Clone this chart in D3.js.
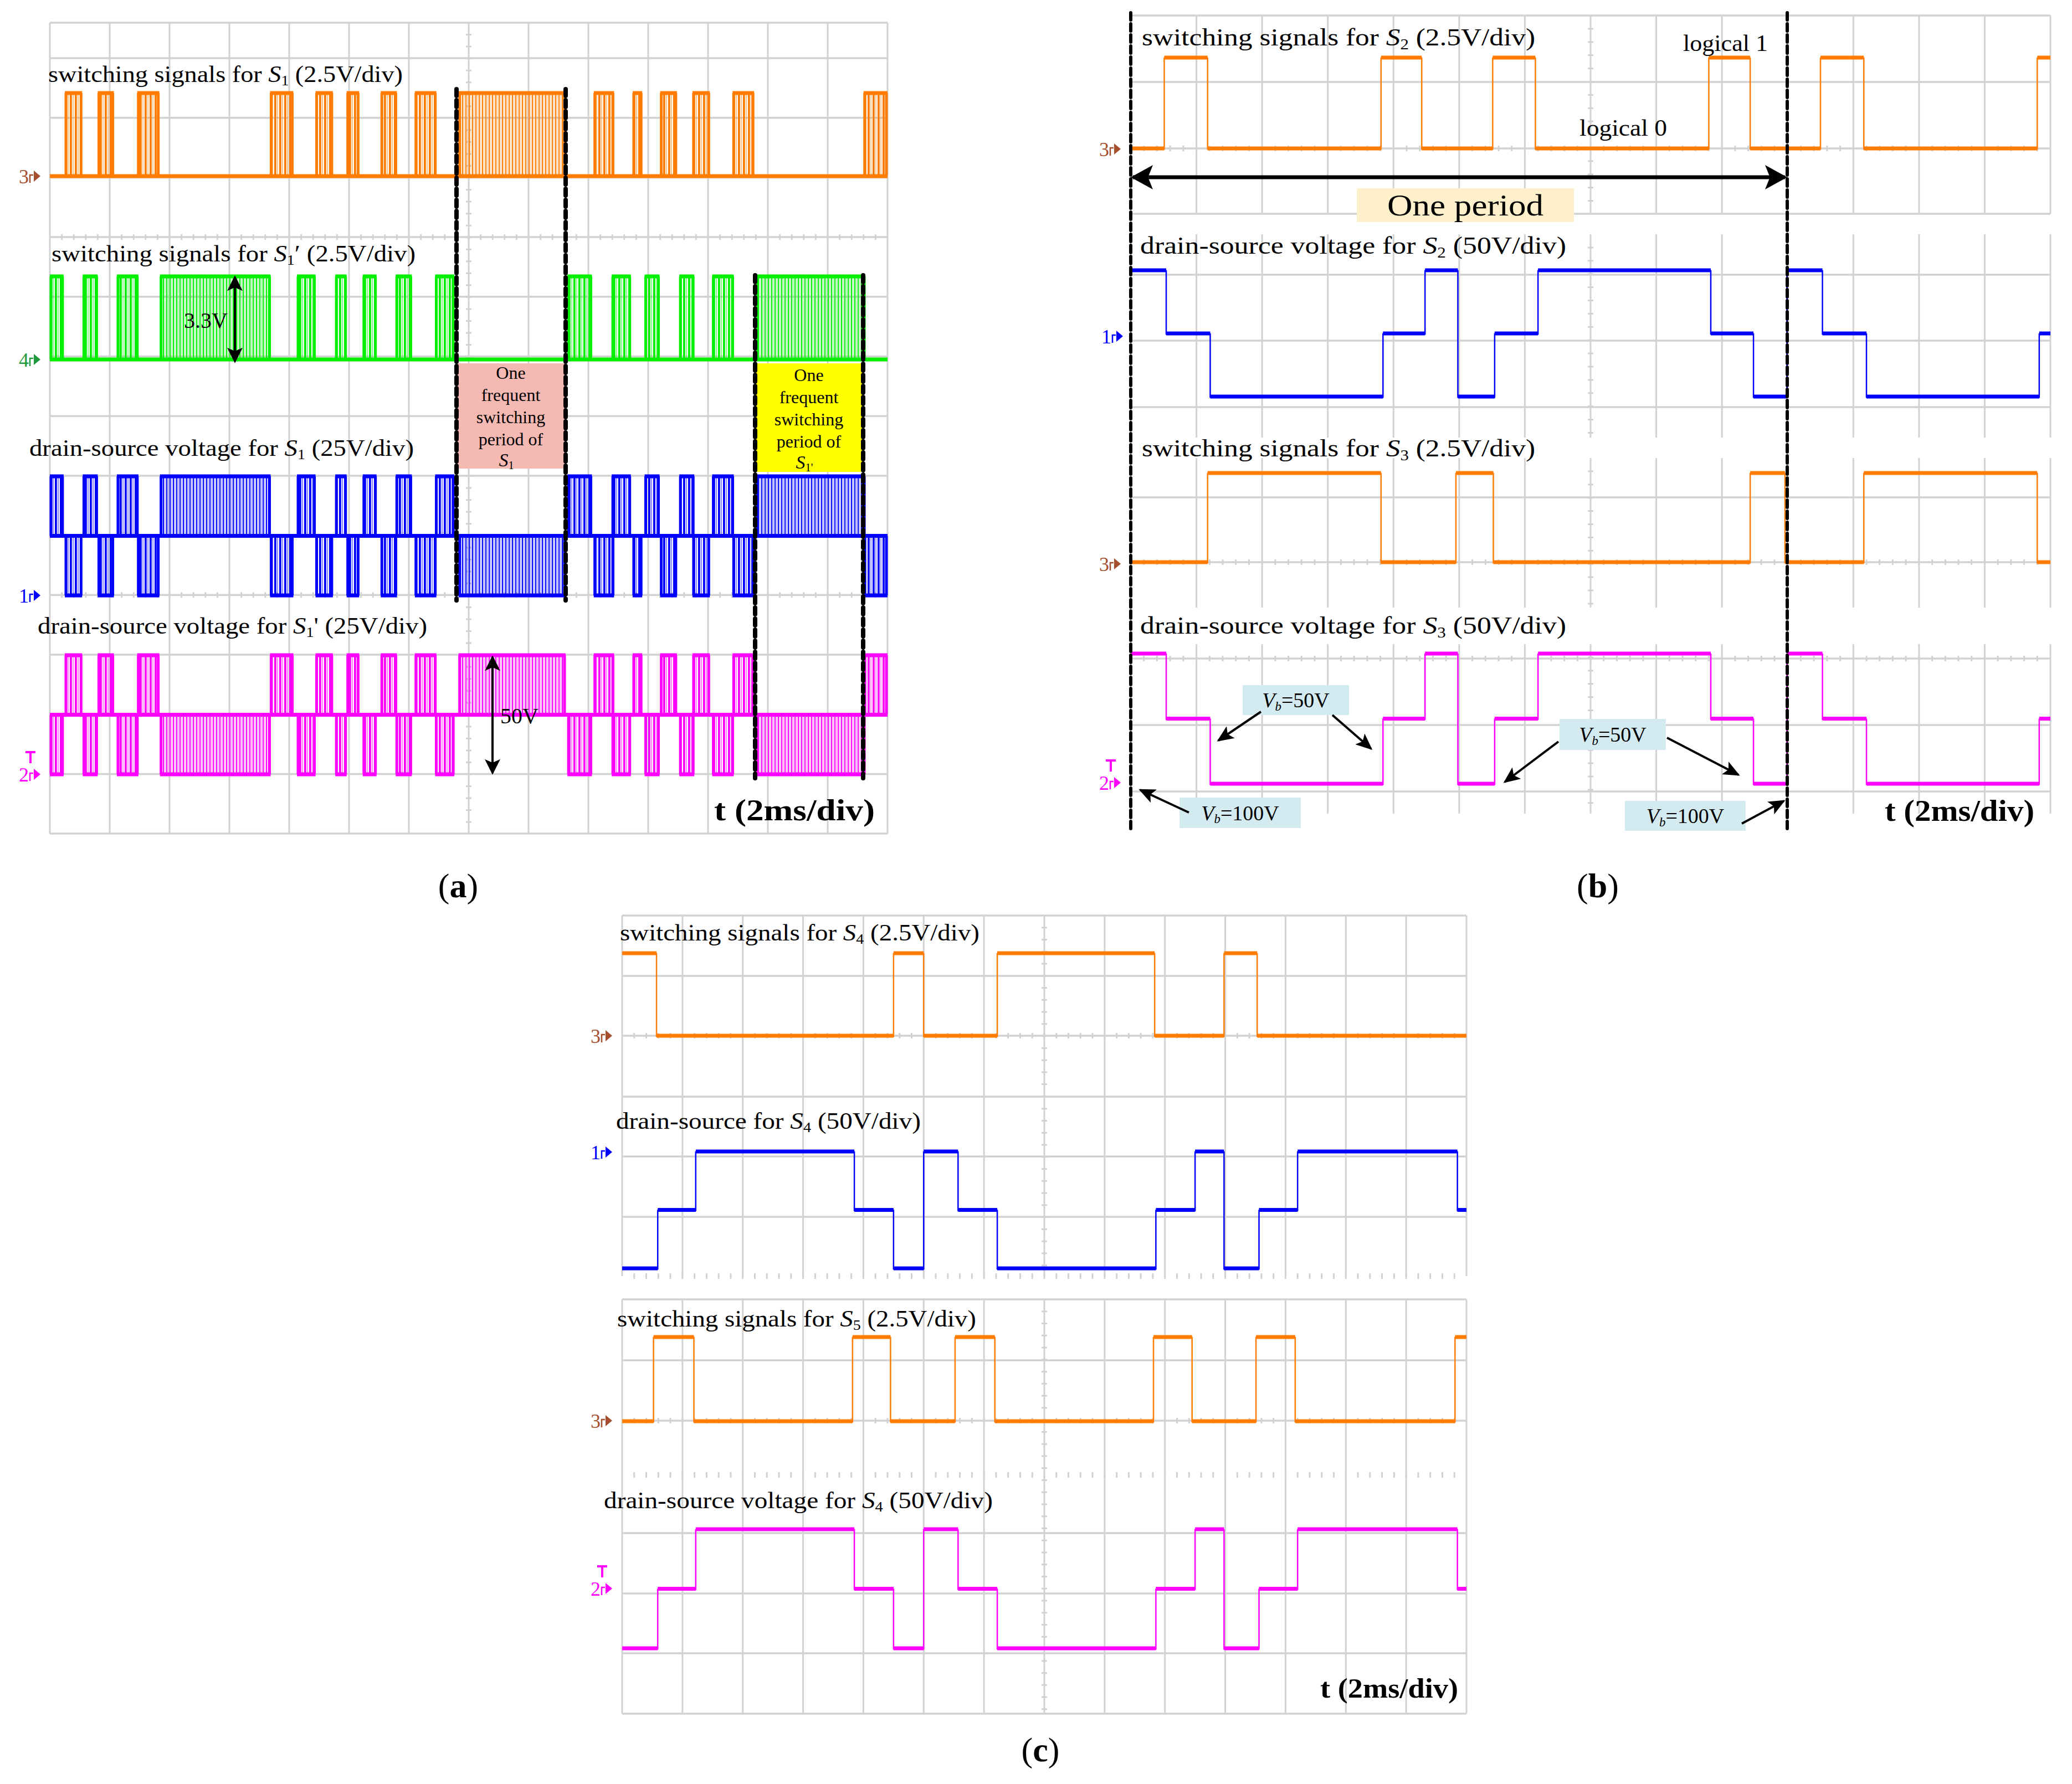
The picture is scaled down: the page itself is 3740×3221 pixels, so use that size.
<!DOCTYPE html>
<html>
<head>
<meta charset="utf-8">
<script src="https://cdn.jsdelivr.net/npm/d3@7"></script>
<style>
  body { margin: 0; background: #fff; }
  text { font-family: "Liberation Serif", "DejaVu Serif", serif; fill: #000; }
</style>
</head>
<body>
<div id="chart"></div>
<script>
var svgWidth = 3740;
var svgHeight = 3221;

// ---------------- data (time in divisions, 2 ms/div) ----------------
var divisions = d3.range(0, 15);

// (a) windows where the gate of S1 / S1' is switching
var s1Bursts = [[0.25, 0.54], [0.80, 1.07], [1.46, 1.83], [3.68, 4.07], [4.44, 4.73], [4.96, 5.17],
  [5.53, 5.80], [6.10, 6.46], [9.09, 9.43], [9.74, 9.90], [10.20, 10.48], [10.74, 11.03],
  [11.41, 11.77], [13.60, 14.0]];
var s1Dense = [[6.83, 8.62]];
var s1pBursts = [[0.0, 0.23], [0.55, 0.80], [1.12, 1.48], [4.13, 4.44], [4.77, 4.96], [5.23, 5.46],
  [5.78, 6.05], [6.44, 6.76], [8.65, 9.06], [9.39, 9.71], [9.94, 10.19], [10.52, 10.77], [11.07, 11.43]];
var s1pDense = [[1.84, 3.69], [11.81, 13.63]];

// (a) drain-source voltages: upper step (25..50V) / lower step (0..25V) windows
var vdsS1Up = [[0.0, 0.23], [0.55, 0.80], [1.12, 1.48], [4.13, 4.44], [4.77, 4.96], [5.23, 5.46],
  [5.78, 6.05], [6.44, 6.76], [8.65, 9.06], [9.39, 9.71], [9.94, 10.19], [10.52, 10.77], [11.07, 11.43]];
var vdsS1UpDense = [[1.84, 3.69], [11.81, 13.63]];
var vdsS1Down = [[0.25, 0.54], [0.80, 1.07], [1.46, 1.83], [3.68, 4.07], [4.44, 4.73], [4.96, 5.17],
  [5.53, 5.80], [6.10, 6.46], [9.09, 9.43], [9.74, 9.90], [10.20, 10.48], [10.74, 11.03],
  [11.41, 11.77], [13.60, 14.0]];
var vdsS1DownDense = [[6.83, 8.62]];
var vdsS1pUp = [[0.25, 0.54], [0.80, 1.07], [1.46, 1.83], [3.68, 4.07], [4.44, 4.73], [4.96, 5.17],
  [5.53, 5.80], [6.10, 6.46], [9.09, 9.43], [9.74, 9.90], [10.20, 10.48], [10.74, 11.03],
  [11.41, 11.77], [13.60, 14.0]];
var vdsS1pUpDense = [[6.83, 8.62]];
var vdsS1pDown = [[0.0, 0.23], [0.55, 0.80], [1.12, 1.48], [4.13, 4.44], [4.77, 4.96], [5.23, 5.46],
  [5.78, 6.05], [6.44, 6.76], [8.65, 9.06], [9.39, 9.71], [9.94, 10.19], [10.52, 10.77], [11.07, 11.43]];
var vdsS1pDownDense = [[1.84, 3.69], [11.81, 13.63]];

// (b) step traces: edge times and the level held after each edge
var s2Times = [0, 0.51, 1.17, 3.81, 4.43, 5.51, 6.16, 8.80, 9.43, 10.50, 11.16, 13.80];
var s2Logic = [0, 1, 0, 1, 0, 1, 0, 1, 0, 1, 0, 1];
var vdsS2Times = [0, 0.54, 1.21, 3.84, 4.48, 4.98, 5.54, 6.20, 8.83, 9.48, 9.99, 10.53, 11.20, 13.83];
var vdsS2Volts = [100, 50, 0, 50, 100, 0, 50, 100, 50, 0, 100, 50, 0, 50];
var s3Times = [0, 1.17, 3.81, 4.95, 5.52, 9.43, 9.96, 11.16, 13.80];
var s3Logic = [0, 1, 0, 1, 0, 1, 0, 1, 0];
var vdsS3Times = [0, 0.54, 1.21, 3.84, 4.48, 4.98, 5.54, 6.20, 8.83, 9.48, 9.99, 10.53, 11.20, 13.83];
var vdsS3Volts = [100, 50, 0, 50, 100, 0, 50, 100, 50, 0, 100, 50, 0, 50];

// (c)
var s4Times = [0, 0.57, 4.50, 5.00, 6.22, 8.83, 9.98, 10.53];
var s4Logic = [1, 0, 1, 0, 1, 0, 1, 0];
var vdsS4Times = [0, 0.59, 1.22, 3.85, 4.50, 5.00, 5.57, 6.22, 8.85, 9.50, 9.98, 10.56, 11.20, 13.85];
var vdsS4Volts = [0, 50, 100, 50, 0, 100, 50, 0, 50, 100, 0, 50, 100, 50];
var s5Times = [0, 0.52, 1.19, 3.82, 4.45, 5.52, 6.18, 8.81, 9.45, 10.51, 11.16, 13.81];
var s5Logic = [0, 1, 0, 1, 0, 1, 0, 1, 0, 1, 0, 1];
var vdsS4bTimes = [0, 0.59, 1.22, 3.85, 4.50, 5.00, 5.57, 6.22, 8.85, 9.50, 9.98, 10.56, 11.20, 13.85];
var vdsS4bVolts = [0, 50, 100, 50, 0, 100, 50, 0, 50, 100, 0, 50, 100, 50];

// ---------------- styles ----------------
var gridColor = "#d2d2d2";
var orange = "#ff7c00";
var green = "#00f000";
var blue = "#0000ff";
var magenta = "#ff00ff";

var svg = d3.select("#chart")
  .append("svg")
  .attr("width", svgWidth)
  .attr("height", svgHeight)
  .style("display", "block");

svg.append("rect").attr("width", svgWidth).attr("height", svgHeight).attr("fill", "#fff");

var defs = svg.append("defs");

function addArrow(id, len, half) {
  defs.append("marker")
    .attr("id", id)
    .attr("viewBox", `0 ${-half} ${len} ${2 * half}`)
    .attr("refX", len * 0.9)
    .attr("refY", 0)
    .attr("markerUnits", "userSpaceOnUse")
    .attr("markerWidth", len)
    .attr("markerHeight", 2 * half)
    .attr("orient", "auto-start-reverse")
    .append("path")
    .attr("d", `M0,${-half}L${len},0L0,${half}L${len * 0.22},0Z`)
    .attr("fill", "#000");
}
addArrow("arrowBig", 40, 22);
addArrow("arrowMid", 28, 14);
addArrow("arrowSmall", 30, 13);

function addStripes(id, color, w, solid) {
  var p = defs.append("pattern")
    .attr("id", id)
    .attr("patternUnits", "userSpaceOnUse")
    .attr("width", w)
    .attr("height", 10);
  p.append("rect").attr("x", 0).attr("width", w * solid).attr("height", 10).attr("fill", color);
  p.append("rect").attr("x", w * 0.58).attr("width", w * 0.2).attr("height", 10)
    .attr("fill", color).attr("opacity", 0.5);
}
[["o", orange], ["g", green], ["b", blue], ["m", magenta]].forEach(function(c) {
  addStripes("stripe-" + c[0], c[1], 9, 0.42);
  addStripes("dense-" + c[0], c[1], 6, 0.36);
});

// ---------------- helpers ----------------
function drawScreen(g, x, s) {
  var step = s.step;
  g.selectAll(null)
    .data(divisions)
    .enter()
    .append("line")
    .attr("x1", d => x(d)).attr("x2", d => x(d))
    .attr("y1", s.top).attr("y2", s.bottom)
    .attr("stroke", gridColor)
    .attr("stroke-width", 3);

  g.selectAll(null)
    .data(s.rows)
    .enter()
    .append("line")
    .attr("x1", x(0)).attr("x2", x(14))
    .attr("y1", d => d).attr("y2", d => d)
    .attr("stroke", gridColor)
    .attr("stroke-width", 3.5);

  // minor ticks on the centre column
  var cx = x(7);
  g.selectAll(null)
    .data(d3.range(s.top + step / 5, s.bottom, step / 5))
    .enter()
    .append("line")
    .attr("x1", cx - 5).attr("x2", cx + 5)
    .attr("y1", d => d).attr("y2", d => d)
    .attr("stroke", gridColor)
    .attr("stroke-width", 3);

  // minor ticks on the tick rows
  (s.tickRows || []).forEach(function(ry) {
    g.selectAll(null)
      .data(d3.range(0.2, 14, 0.2))
      .enter()
      .append("line")
      .attr("x1", d => x(d)).attr("x2", d => x(d))
      .attr("y1", ry - 5).attr("y2", ry + 5)
      .attr("stroke", gridColor)
      .attr("stroke-width", 3);
  });
}

// a trace that sits on one level and chops to other levels inside windows
function drawBurstTrace(g, x, baseY, cfg) {
  g.append("line")
    .attr("x1", x(0)).attr("x2", x(14))
    .attr("y1", baseY).attr("y2", baseY)
    .attr("stroke", cfg.color)
    .attr("stroke-width", 7);

  function windows(list, otherY, pat) {
    list.forEach(function(w) {
      var x0 = x(w[0]), x1 = x(w[1]);
      g.append("rect")
        .attr("x", x0).attr("width", x1 - x0)
        .attr("y", Math.min(baseY, otherY)).attr("height", Math.abs(otherY - baseY))
        .attr("fill", `url(#${pat})`);
      g.append("line")
        .attr("x1", x0).attr("x2", x1).attr("y1", otherY).attr("y2", otherY)
        .attr("stroke", cfg.color).attr("stroke-width", 7);
      [x0 + 2, x1 - 2].forEach(function(ex) {
        g.append("line")
          .attr("x1", ex).attr("x2", ex).attr("y1", baseY).attr("y2", otherY)
          .attr("stroke", cfg.color).attr("stroke-width", 5);
      });
    });
  }
  if (cfg.up) windows(cfg.up, cfg.upY, "stripe-" + cfg.key);
  if (cfg.upDense) windows(cfg.upDense, cfg.upY, "dense-" + cfg.key);
  if (cfg.down) windows(cfg.down, cfg.downY, "stripe-" + cfg.key);
  if (cfg.downDense) windows(cfg.downDense, cfg.downY, "dense-" + cfg.key);
}

// clean step trace (panels b and c)
function drawStep(g, x, y, times, levels, color) {
  var pts = times.map((t, i) => [t, levels[i]]);
  pts.push([14, levels[levels.length - 1]]);
  var line = d3.line()
    .x(d => x(d[0]))
    .y(d => y(d[1]))
    .curve(d3.curveStepAfter);
  g.append("path")
    .attr("d", line(pts))
    .attr("fill", "none")
    .attr("stroke", color)
    .attr("stroke-width", 2.5);
  // the flat parts are thickened by noise on the scope
  g.selectAll(null)
    .data(pts.slice(0, -1))
    .enter()
    .append("line")
    .attr("x1", d => x(d[0]))
    .attr("x2", (d, i) => x(pts[i + 1][0]))
    .attr("y1", d => y(d[1]) - 1).attr("y2", d => y(d[1]) - 1)
    .attr("stroke", color)
    .attr("stroke-width", 7);
}

function richText(g, x, y, parts, size, opts) {
  opts = opts || {};
  var t = g.append("text").attr("x", x).attr("y", y).attr("font-size", size);
  var shift = 0;
  parts.forEach(function(p) {
    var st = p[1] || "";
    var s = t.append("tspan").text(p[0]);
    var want = 0;
    if (st.indexOf("sub") >= 0) { s.attr("font-size", size * 0.6); want = size * 0.15; }
    if (st.indexOf("i") === 0) s.attr("font-style", "italic");
    if (st.indexOf("b") === 0) s.attr("font-weight", "bold");
    if (want !== shift) { s.attr("dy", want - shift); shift = want; }
  });
  if (opts.len) t.attr("textLength", opts.len).attr("lengthAdjust", "spacingAndGlyphs");
  if (opts.anchor) t.attr("text-anchor", opts.anchor);
  if (opts.weight) t.attr("font-weight", opts.weight);
  return t;
}

function chanMark(g, x, y, label, color, trig) {
  g.append("text")
    .attr("x", x).attr("y", y + 13)
    .attr("font-size", 36)
    .style("fill", color)
    .text(label);
  g.append("path")
    .attr("d", `M${x + 20},${y + 12}v-14h6`)
    .attr("fill", "none").attr("stroke", color).attr("stroke-width", 2.5);
  g.append("path")
    .attr("d", `M${x + 27},${y - 10}l12,10l-12,10z`)
    .attr("fill", color);
  if (trig) {
    g.append("path")
      .attr("d", `M${x + 12},${y - 40}h18M${x + 21},${y - 40}v20`)
      .attr("stroke", color).attr("stroke-width", 4).attr("fill", "none");
  }
}

function dashedV(g, x, y0, y1, w, dash) {
  g.append("line")
    .attr("x1", x).attr("x2", x).attr("y1", y0).attr("y2", y1)
    .attr("stroke", "#000")
    .attr("stroke-width", w)
    .attr("stroke-dasharray", dash)
    .attr("stroke-linecap", "round");
}

function subLabel(pre, sub, post) {
  return [[pre, ""], ["S", "i"], [sub, "sub"], [post, ""]];
}

// ======================= panel (a) =======================
var gA = svg.append("g");
var xA = d3.scaleLinear().domain([0, 14]).range([90, 1602]);
var rowA = 107.7;
drawScreen(gA, xA, {
  top: 41, bottom: 1505, step: rowA,
  rows: [41].concat(d3.range(14).map(k => 105 + k * rowA)),
  tickRows: [105 + 3 * rowA, 105 + 9 * rowA]
});

// annotation boxes behind the traces
gA.append("rect").attr("x", 824).attr("y", 656).attr("width", 197).attr("height", 190).attr("fill", "#f4b9b3");
gA.append("rect").attr("x", 1363).attr("y", 656).attr("width", 195).attr("height", 196).attr("fill", "#ffff00");

var yS1 = d3.scaleLinear().domain([0, 1]).range([318, 168]);
var yS1p = d3.scaleLinear().domain([0, 1]).range([649, 499]);
var yV1 = d3.scaleLinear().domain([0, 50]).range([1075, 860]);
var yV1p = d3.scaleLinear().domain([0, 50]).range([1398, 1183]);

drawBurstTrace(gA, xA, yS1(0), { color: orange, key: "o", up: s1Bursts, upDense: s1Dense, upY: yS1(1) });
drawBurstTrace(gA, xA, yS1p(0), { color: green, key: "g", up: s1pBursts, upDense: s1pDense, upY: yS1p(1) });
drawBurstTrace(gA, xA, yV1(25), {
  color: blue, key: "b",
  up: vdsS1Up, upDense: vdsS1UpDense, upY: yV1(50),
  down: vdsS1Down, downDense: vdsS1DownDense, downY: yV1(0)
});
drawBurstTrace(gA, xA, yV1p(25), {
  color: magenta, key: "m",
  up: vdsS1pUp, upDense: vdsS1pUpDense, upY: yV1p(50),
  down: vdsS1pDown, downDense: vdsS1pDownDense, downY: yV1p(0)
});

chanMark(gA, 34, yS1(0), "3", "#a4502e");
chanMark(gA, 34, yS1p(0), "4", "#1f9a3c");
chanMark(gA, 34, yV1(0), "1", blue);
chanMark(gA, 34, yV1p(0), "2", magenta, true);

dashedV(gA, 824, 161, 1084, 8, "12,8");
dashedV(gA, 1021, 161, 1084, 8, "12,8");
dashedV(gA, 1363, 497, 1405, 8, "12,8");
dashedV(gA, 1558, 497, 1405, 8, "12,8");

richText(gA, 87, 148, subLabel("switching signals for ", "1", " (2.5V/div)"), 42, { len: 640 });
richText(gA, 93, 472, subLabel("switching signals for ", "1", "\u2032 (2.5V/div)"), 42, { len: 657 });
richText(gA, 53, 823, subLabel("drain-source voltage for ", "1", " (25V/div)"), 42, { len: 694 });
richText(gA, 68, 1144, subLabel("drain-source voltage for ", "1", "' (25V/div)"), 42, { len: 703 });

var boxLines = ["One", "frequent", "switching", "period of"];
boxLines.forEach(function(s, i) {
  richText(gA, 922, 684 + i * 40, [[s, ""]], 32, { anchor: "middle" });
  richText(gA, 1460, 688 + i * 40, [[s, ""]], 32, { anchor: "middle" });
});
richText(gA, 914, 842, [["S", "i"], ["1", "sub"]], 34, { anchor: "middle" });
richText(gA, 1452, 846, [["S", "i"], ["1'", "sub"]], 34, { anchor: "middle" });

// 3.3 V and 50 V spans
gA.append("line").attr("x1", 424).attr("x2", 424).attr("y1", 500).attr("y2", 653)
  .attr("stroke", "#000").attr("stroke-width", 4)
  .attr("marker-start", "url(#arrowMid)").attr("marker-end", "url(#arrowMid)");
richText(gA, 332, 592, [["3.3V", ""]], 40);
gA.append("line").attr("x1", 889).attr("x2", 889).attr("y1", 1186).attr("y2", 1396)
  .attr("stroke", "#000").attr("stroke-width", 4)
  .attr("marker-start", "url(#arrowMid)").attr("marker-end", "url(#arrowMid)");
richText(gA, 903, 1306, [["50V", ""]], 40);

richText(gA, 1289, 1481, [["t (2ms/div)", ""]], 54, { len: 290, weight: "bold" });
richText(gA, 827, 1620, [["(", ""], ["a", "b"], [")", ""]], 62, { anchor: "middle" });

// ======================= panel (b) =======================
var gB = svg.append("g");
var xB = d3.scaleLinear().domain([0, 14]).range([2041, 3701]);
var rowB = 119.5;
drawScreen(gB, xB, { top: 28, bottom: 386, step: rowB, rows: [28, 148, 268, 386], tickRows: [268] });
drawScreen(gB, xB, { top: 423, bottom: 790, step: rowB, rows: [496, 615, 735] });
drawScreen(gB, xB, { top: 827, bottom: 1097, step: rowB, rows: [898, 1015], tickRows: [1015] });
drawScreen(gB, xB, { top: 1163, bottom: 1469, step: rowB, rows: [1189, 1309, 1429], tickRows: [1189] });

var yS2 = d3.scaleLinear().domain([0, 1]).range([269, 105]);
var yV2 = d3.scaleLinear().domain([0, 100]).range([717, 489]);
var yS3 = d3.scaleLinear().domain([0, 1]).range([1016, 855]);
var yV3 = d3.scaleLinear().domain([0, 100]).range([1416, 1181]);

drawStep(gB, xB, yS2, s2Times, s2Logic, orange);
drawStep(gB, xB, yV2, vdsS2Times, vdsS2Volts, blue);
drawStep(gB, xB, yS3, s3Times, s3Logic, orange);
drawStep(gB, xB, yV3, vdsS3Times, vdsS3Volts, magenta);

chanMark(gB, 1984, 269, "3", "#a4502e");
chanMark(gB, 1988, 607, "1", blue);
chanMark(gB, 1984, 1018, "3", "#a4502e");
chanMark(gB, 1984, 1413, "2", magenta, true);

dashedV(gB, 2041, 23, 1497, 6, "13,7");
dashedV(gB, 3226, 23, 1497, 6, "13,7");

richText(gB, 2061, 82, subLabel("switching signals for ", "2", " (2.5V/div)"), 44, { len: 710 });
richText(gB, 2058, 458, subLabel("drain-source voltage for ", "2", " (50V/div)"), 44, { len: 769 });
richText(gB, 2061, 824, subLabel("switching signals for ", "3", " (2.5V/div)"), 44, { len: 710 });
richText(gB, 2058, 1144, subLabel("drain-source voltage for ", "3", " (50V/div)"), 44, { len: 769 });
richText(gB, 3038, 92, [["logical 1", ""]], 42, { len: 153 });
richText(gB, 2851, 245, [["logical 0", ""]], 42, { len: 158 });

// one period span
gB.append("line").attr("x1", 2045).attr("x2", 3222).attr("y1", 320).attr("y2", 320)
  .attr("stroke", "#000").attr("stroke-width", 7)
  .attr("marker-start", "url(#arrowBig)").attr("marker-end", "url(#arrowBig)");
gB.append("rect").attr("x", 2449).attr("y", 340).attr("width", 392).attr("height", 61).attr("fill", "#fdf0cb");
richText(gB, 2645, 389, [["One period", ""]], 54, { anchor: "middle", len: 282 });

// battery voltage call-outs
var vbBoxes = [
  { x: 2243, y: 1237, w: 192, h: 54, txt: "=50V" },
  { x: 2815, y: 1298, w: 192, h: 56, txt: "=50V" },
  { x: 2129, y: 1440, w: 219, h: 55, txt: "=100V" },
  { x: 2933, y: 1446, w: 218, h: 54, txt: "=100V" }
];
vbBoxes.forEach(function(b) {
  gB.append("rect").attr("x", b.x).attr("y", b.y).attr("width", b.w).attr("height", b.h).attr("fill", "#d3ebf0");
  richText(gB, b.x + b.w / 2, b.y + b.h / 2 + 13, [["V", "i"], ["b", "isub"], [b.txt, ""]], 38, { anchor: "middle" });
});
var vbArrows = [
  [2276, 1285, 2199, 1337], [2405, 1291, 2475, 1352],
  [2813, 1339, 2716, 1412], [3009, 1332, 3138, 1399],
  [2146, 1467, 2058, 1426], [3144, 1487, 3220, 1446]
];
vbArrows.forEach(function(a) {
  gB.append("line").attr("x1", a[0]).attr("y1", a[1]).attr("x2", a[2]).attr("y2", a[3])
    .attr("stroke", "#000").attr("stroke-width", 4)
    .attr("marker-end", "url(#arrowSmall)");
});

richText(gB, 3402, 1482, [["t (2ms/div)", ""]], 54, { len: 270, weight: "bold" });
richText(gB, 2884, 1620, [["(", ""], ["b", "b"], [")", ""]], 62, { anchor: "middle" });

// ======================= panel (c) =======================
var gC = svg.append("g");
var xC = d3.scaleLinear().domain([0, 14]).range([1123, 2647]);
var rowC = 108.8;
drawScreen(gC, xC, { top: 1653, bottom: 1980, step: rowC, rows: [1653, 1762, 1870, 1980], tickRows: [1870] });
drawScreen(gC, xC, { top: 1980, bottom: 2304, step: rowC, rows: [2088, 2197], tickRows: [2304] });
drawScreen(gC, xC, { top: 2346, bottom: 3094, step: rowC,
  rows: [2346, 2456, 2565, 2768, 2877, 2985, 3094], tickRows: [2565, 2663] });

var yS4 = d3.scaleLinear().domain([0, 1]).range([1871, 1722]);
var yV4 = d3.scaleLinear().domain([0, 100]).range([2291, 2080]);
var yS5 = d3.scaleLinear().domain([0, 1]).range([2567, 2415]);
var yV4b = d3.scaleLinear().domain([0, 100]).range([2977, 2762]);

drawStep(gC, xC, yS4, s4Times, s4Logic, orange);
drawStep(gC, xC, yV4, vdsS4Times, vdsS4Volts, blue);
drawStep(gC, xC, yS5, s5Times, s5Logic, orange);
drawStep(gC, xC, yV4b, vdsS4bTimes, vdsS4bVolts, magenta);

chanMark(gC, 1066, 1870, "3", "#a4502e");
chanMark(gC, 1066, 2080, "1", blue);
chanMark(gC, 1066, 2565, "3", "#a4502e");
chanMark(gC, 1066, 2868, "2", magenta, true);

richText(gC, 1119, 1698, subLabel("switching signals for ", "4", " (2.5V/div)"), 42, { len: 649 });
richText(gC, 1112, 2038, subLabel("drain-source for ", "4", " (50V/div)"), 42, { len: 550 });
richText(gC, 1114, 2395, subLabel("switching signals for ", "5", " (2.5V/div)"), 42, { len: 648 });
richText(gC, 1090, 2723, subLabel("drain-source voltage for ", "4", " (50V/div)"), 42, { len: 702 });

richText(gC, 2383, 3065, [["t (2ms/div)", ""]], 50, { len: 249, weight: "bold" });
richText(gC, 1878, 3180, [["(", ""], ["c", "b"], [")", ""]], 62, { anchor: "middle" });
</script>
</body>
</html>
